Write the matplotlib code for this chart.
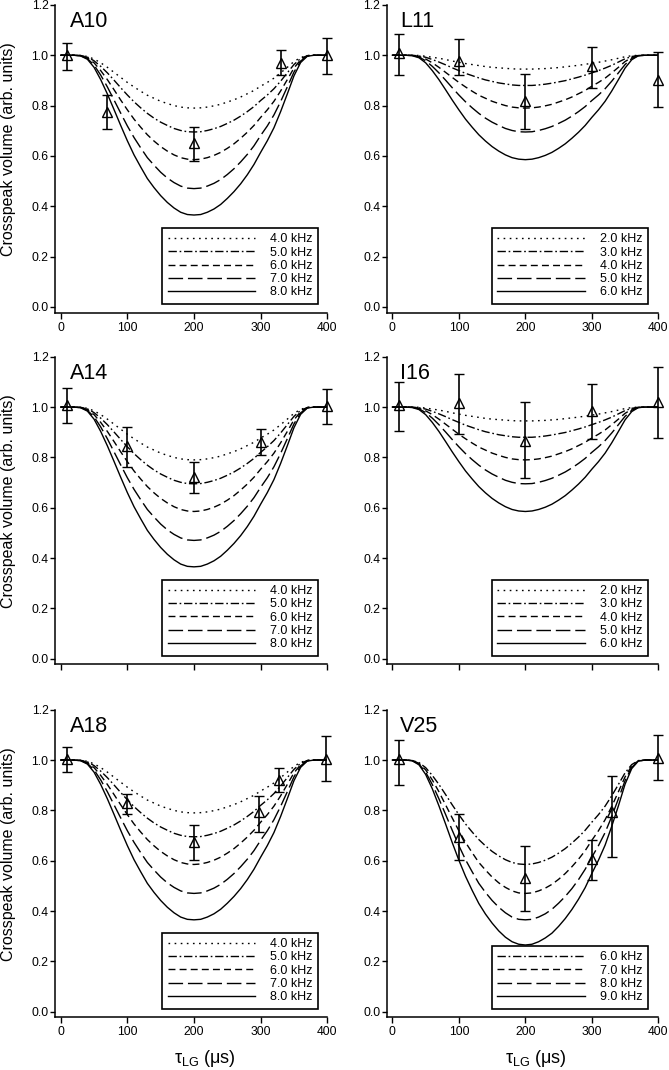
import matplotlib
matplotlib.use('Agg')
import matplotlib.pyplot as plt

plt.rcParams['font.family'] = ['Liberation Sans', 'DejaVu Sans']
plt.rcParams['mathtext.fontset'] = 'custom'
plt.rcParams['mathtext.rm'] = 'Liberation Sans'
plt.rcParams['mathtext.it'] = 'Liberation Sans:italic'
plt.rcParams['lines.scale_dashes'] = False

# simulated curves, read every 10 us (0 ... 400)
tau = list(range(0, 401, 10))
sim = {
    2.0: [1.000, 1.000, 1.000, 1.000, 0.999, 0.996, 0.992, 0.988, 0.983, 0.977, 0.972, 0.967, 0.963, 0.959,
          0.955, 0.952, 0.950, 0.948, 0.946, 0.945, 0.945, 0.945, 0.946, 0.947, 0.949, 0.951, 0.954, 0.957,
          0.960, 0.964, 0.968, 0.972, 0.977, 0.982, 0.988, 0.994, 0.998, 1.000, 1.000, 1.000, 1.000],
    3.0: [1.000, 1.000, 1.000, 1.000, 0.997, 0.992, 0.983, 0.973, 0.962, 0.950, 0.939, 0.928, 0.919, 0.910,
          0.902, 0.896, 0.890, 0.886, 0.882, 0.880, 0.880, 0.880, 0.882, 0.885, 0.889, 0.894, 0.899, 0.906,
          0.913, 0.921, 0.930, 0.939, 0.949, 0.960, 0.973, 0.986, 0.995, 0.999, 1.000, 1.000, 1.000],
    4.0: [1.000, 1.000, 1.000, 0.999, 0.995, 0.985, 0.970, 0.952, 0.932, 0.912, 0.892, 0.874, 0.857, 0.841,
          0.829, 0.817, 0.808, 0.800, 0.794, 0.791, 0.790, 0.791, 0.794, 0.799, 0.805, 0.814, 0.823, 0.834,
          0.847, 0.860, 0.877, 0.892, 0.909, 0.930, 0.952, 0.975, 0.991, 0.999, 1.000, 1.000, 1.000],
    5.0: [1.000, 1.000, 1.000, 0.999, 0.993, 0.978, 0.956, 0.930, 0.901, 0.871, 0.842, 0.815, 0.791, 0.769,
          0.750, 0.734, 0.721, 0.709, 0.701, 0.696, 0.695, 0.696, 0.701, 0.708, 0.717, 0.729, 0.742, 0.758,
          0.776, 0.796, 0.820, 0.842, 0.867, 0.897, 0.930, 0.963, 0.987, 0.998, 1.000, 1.000, 1.000],
    6.0: [1.000, 1.000, 1.000, 0.998, 0.990, 0.970, 0.939, 0.903, 0.863, 0.822, 0.783, 0.746, 0.714, 0.684,
          0.659, 0.637, 0.619, 0.604, 0.593, 0.587, 0.585, 0.587, 0.593, 0.602, 0.614, 0.630, 0.648, 0.670,
          0.694, 0.721, 0.753, 0.783, 0.817, 0.858, 0.903, 0.949, 0.982, 0.998, 1.000, 1.000, 1.000],
    7.0: [1.000, 1.000, 1.000, 0.998, 0.987, 0.961, 0.921, 0.874, 0.822, 0.770, 0.719, 0.673, 0.632, 0.593,
          0.563, 0.535, 0.512, 0.494, 0.480, 0.472, 0.470, 0.472, 0.480, 0.491, 0.506, 0.526, 0.549, 0.576,
          0.606, 0.640, 0.681, 0.719, 0.763, 0.816, 0.874, 0.933, 0.977, 0.997, 1.000, 1.000, 1.000],
    8.0: [1.000, 1.000, 1.000, 0.997, 0.984, 0.952, 0.903, 0.846, 0.784, 0.721, 0.660, 0.604, 0.556, 0.510,
          0.474, 0.442, 0.415, 0.393, 0.376, 0.367, 0.365, 0.367, 0.376, 0.389, 0.407, 0.431, 0.458, 0.489,
          0.525, 0.566, 0.614, 0.660, 0.712, 0.776, 0.846, 0.918, 0.971, 0.996, 1.000, 1.000, 1.000],
    9.0: [1.000, 1.000, 1.000, 0.997, 0.981, 0.943, 0.886, 0.818, 0.746, 0.672, 0.602, 0.538, 0.482, 0.430,
          0.388, 0.352, 0.321, 0.296, 0.278, 0.268, 0.265, 0.268, 0.278, 0.293, 0.312, 0.339, 0.370, 0.406,
          0.447, 0.493, 0.549, 0.602, 0.662, 0.737, 0.818, 0.904, 0.966, 0.996, 1.000, 1.000, 1.000],
}

# measured crosspeak volumes (point, lower and upper end of error bar)
names = ['A10', 'L11', 'A14', 'I16', 'A18', 'V25']
freqs = [[4.0, 5.0, 6.0, 7.0, 8.0], [2.0, 3.0, 4.0, 5.0, 6.0],
         [4.0, 5.0, 6.0, 7.0, 8.0], [2.0, 3.0, 4.0, 5.0, 6.0],
         [4.0, 5.0, 6.0, 7.0, 8.0], [6.0, 7.0, 8.0, 9.0]]
exp_x = [[10, 70, 200, 330, 400], [10, 100, 200, 300, 400], [10, 100, 200, 300, 400],
         [10, 100, 200, 300, 400], [10, 100, 200, 297, 328, 398], [10, 100, 200, 300, 330, 400]]
exp_y = [[1.000, 0.775, 0.650, 0.970, 1.000], [1.007, 0.979, 0.817, 0.956, 0.903],
         [1.007, 0.846, 0.724, 0.863, 1.005], [1.007, 1.016, 0.867, 0.985, 1.019],
         [1.005, 0.829, 0.676, 0.792, 0.922, 1.005], [1.005, 0.696, 0.533, 0.607, 0.793, 1.008]]
exp_lo = [[0.943, 0.705, 0.580, 0.920, 0.925], [0.923, 0.923, 0.707, 0.870, 0.794],
          [0.936, 0.760, 0.660, 0.810, 0.934], [0.906, 0.894, 0.717, 0.874, 0.876],
          [0.951, 0.784, 0.603, 0.716, 0.875, 0.915], [0.899, 0.603, 0.400, 0.524, 0.613, 0.922]]
exp_hi = [[1.050, 0.841, 0.713, 1.022, 1.069], [1.086, 1.066, 0.927, 1.032, 1.013],
          [1.076, 0.920, 0.780, 0.912, 1.072], [1.100, 1.133, 1.019, 1.093, 1.158],
          [1.050, 0.864, 0.743, 0.858, 0.968, 1.097], [1.081, 0.785, 0.660, 0.683, 0.935, 1.100]]

styles = [(0, (1.2, 3.2)), (0, (6, 2, 1.2, 2)), (0, (5, 3)), (0, (10.5, 3.5)), '-']

fig = plt.figure(figsize=(6.69, 10.70), dpi=100)
col_x = [0.0822, 0.578]
col_w = [0.407, 0.406]
row_y = [0.7078, 0.379, 0.0491]
row_h = 0.2876

for i, name in enumerate(names):
    r, c = divmod(i, 2)
    ax = fig.add_axes([col_x[c], row_y[r], col_w[c], row_h])

    fs = freqs[i]
    for f, ls in zip(fs, styles[-len(fs):]):
        ax.plot(tau, sim[f], color='k', lw=1.0, linestyle=ls, label=f'{f:.1f} kHz')

    y = exp_y[i]
    yerr = [[a - b for a, b in zip(y, exp_lo[i])], [b - a for a, b in zip(y, exp_hi[i])]]
    eb = ax.errorbar(exp_x[i], y, yerr=yerr, fmt='^', ms=6.5, mfc='none', mec='k', mew=1.0,
                     ecolor='k', elinewidth=1.2, capsize=3.5, capthick=1.2, zorder=5)
    for art in eb.get_children():
        art.set_clip_on(False)

    ax.set_xlim(-8.6, 400)
    ax.set_ylim(-0.023, 1.2)
    ax.set_xticks([0, 100, 200, 300, 400])
    ax.set_yticks([0.0, 0.2, 0.4, 0.6, 0.8, 1.0, 1.2])
    ax.set_yticklabels([f'{v:.1f}' for v in [0.0, 0.2, 0.4, 0.6, 0.8, 1.0, 1.2]])
    for s in ['top', 'right']:
        ax.spines[s].set_visible(False)
    for s in ['left', 'bottom']:
        ax.spines[s].set_linewidth(1.1)
    ax.tick_params(axis='both', direction='out', width=1.0, labelsize=8.7, colors='k')
    ax.tick_params(axis='y', length=3.6, pad=1.0)
    ax.tick_params(axis='x', length=4.2, pad=2.2)
    if r == 1:
        ax.tick_params(axis='x', labelbottom=False)

    ax.text(14 if c == 0 else 12, 1.111, name, fontsize=15.5, ha='left', va='baseline')

    if c == 0:
        ax.set_ylabel('Crosspeak volume (arb. units)', fontsize=11.5)
        ax.yaxis.set_label_coords(-0.145, 0.53)
    if r == 2:
        ax.set_xlabel('τ$_{\\mathrm{LG}}$ (μs)', fontsize=13)
        ax.xaxis.set_label_coords(0.55, -0.1)

    leg = ax.legend(loc='lower right', bbox_to_anchor=(0.967 if c == 0 else 0.962, 0.028),
                    borderaxespad=0, fontsize=9, handlelength=7.0, handletextpad=1.2,
                    labelspacing=0.1, borderpad=0.45, frameon=True, fancybox=False,
                    framealpha=1, edgecolor='k')
    leg.get_frame().set_linewidth(1.2)

fig.savefig('out.png', dpi=100)
